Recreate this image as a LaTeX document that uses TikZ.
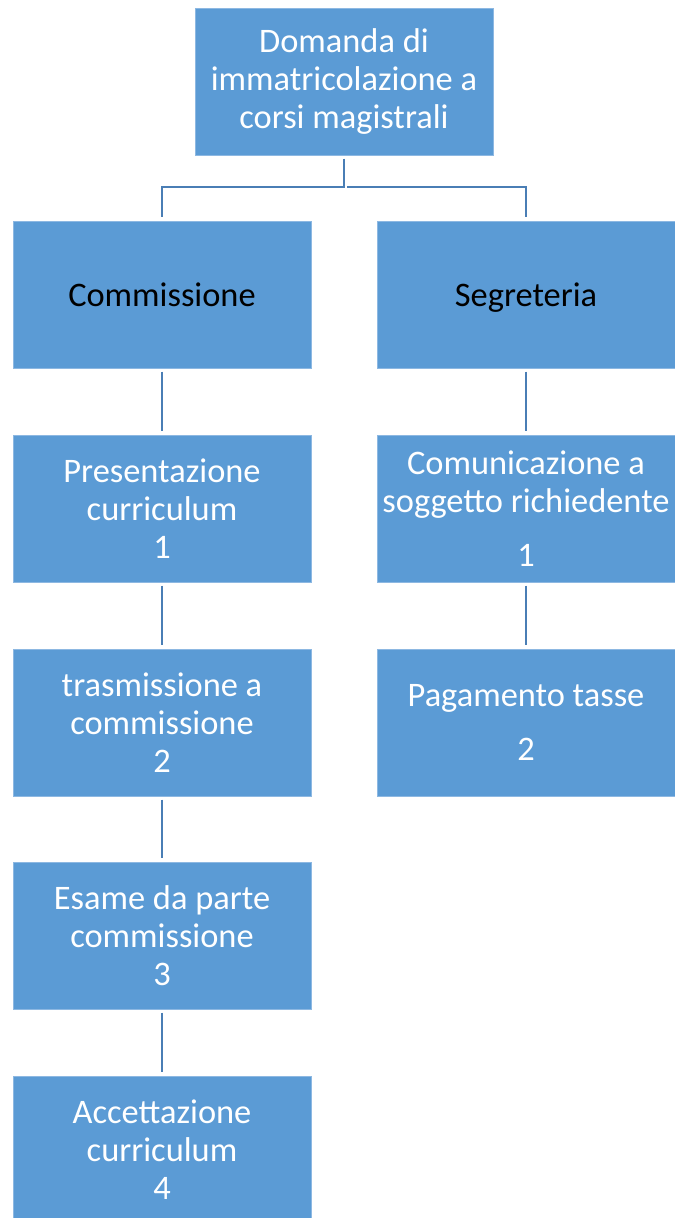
\documentclass[tikz,border=0pt]{standalone}
\usepackage{fontspec}
\setmainfont{Carlito}
\definecolor{boxfill}{HTML}{5B9BD5}
\definecolor{boxedge}{HTML}{8DB8E2}
\definecolor{linecol}{HTML}{4A7EB5}
\tikzset{
  box/.style={draw=boxedge, line width=0.6pt, fill=boxfill, minimum width=223.5pt, minimum height=110.25pt,
    inner sep=0pt, align=center, text=white, font=\fontsize{25.8}{28.5}\selectfont},
  dark/.style={text=black},
  conn/.style={draw=linecol, line width=1.6pt, shorten >=2.5pt, shorten <=2.5pt}
}
\begin{document}
\begin{tikzpicture}[x=0.75pt,y=-0.75pt]
\useasboundingbox (0,0) rectangle (675,1218);
\node[box] (top) at (344,81.5) {Domanda di\\immatricolazione a\\corsi magistrali};
\node[box,dark] (comm) at (162,294.5) {Commissione};
\node[box,dark,text depth=0pt] (segr) at (526,294.5) {Segreteria};
\node[box] (pres) at (162,508.5) {Presentazione\\curriculum\\1};
\node[box] (comu) at (526,508.5) {Comunicazione a\\soggetto richiedente\\[12pt]1};
\node[box] (tras) at (162,722.5) {trasmissione a\\commissione\\2};
\node[box] (paga) at (526,722.5) {Pagamento tasse\\[12pt]2};
\node[box] (esam) at (162,935.5) {Esame da parte\\commissione\\3};
\node[box] (acce) at (162,1149.5) {Accettazione\\curriculum\\4};
\coordinate (mid) at (344,187);
\draw[conn] (top.south) -- (mid) -| (comm.north);
\draw[conn] (mid) -| (segr.north);
\draw[conn] (comm.south) -- (pres.north);
\draw[conn] (pres.south) -- (tras.north);
\draw[conn] (tras.south) -- (esam.north);
\draw[conn] (esam.south) -- (acce.north);
\draw[conn] (segr.south) -- (comu.north);
\draw[conn] (comu.south) -- (paga.north);
\end{tikzpicture}
\end{document}
